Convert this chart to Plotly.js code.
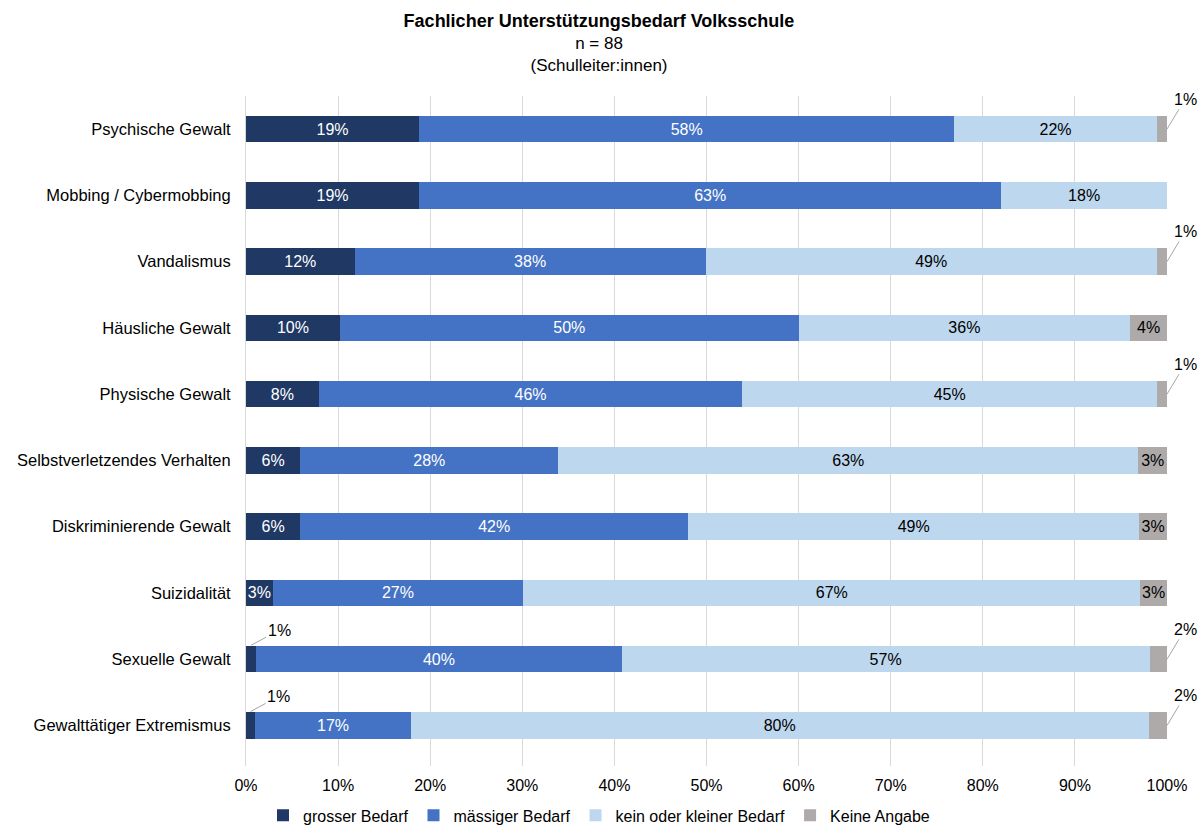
<!DOCTYPE html>
<html>
<head>
<meta charset="utf-8">
<script src="https://cdn.plot.ly/plotly-3.0.1.min.js"></script>
<style>
  html, body { margin: 0; padding: 0; background: #ffffff; }
  #chart { width: 1198px; height: 827px; }
</style>
</head>
<body>
<div id="chart"></div>
<script>
  // Unterstützungsbedarf, Anteile in %
  const categories = [
    'Psychische Gewalt',
    'Mobbing / Cybermobbing',
    'Vandalismus',
    'Häusliche Gewalt',
    'Physische Gewalt',
    'Selbstverletzendes Verhalten',
    'Diskriminierende Gewalt',
    'Suizidalität',
    'Sexuelle Gewalt',
    'Gewalttätiger Extremismus'
  ];
  const grosserBedarf   = [18.8, 18.8, 11.8, 10.2, 7.9, 5.9, 5.9, 2.9, 1.1, 1.0];
  const maessigerBedarf = [58.1, 63.2, 38.1, 49.8, 46.0, 28.0, 42.1, 27.2, 39.7, 16.9];
  const keinBedarf      = [22.0, 18.0, 49.0, 36.0, 45.0, 63.0, 49.0, 67.0, 57.3, 80.1];
  const keineAngabe     = [1.1, 0, 1.1, 4.0, 1.1, 3.1, 3.0, 2.9, 1.9, 2.0];
  const seriesNames = ['grosser Bedarf', 'mässiger Bedarf', 'kein oder kleiner Bedarf', 'Keine Angabe'];
  const xTicks = [0, 10, 20, 30, 40, 50, 60, 70, 80, 90, 100];

  const COLORS = ['#203864', '#4472c4', '#bdd7ee', '#aeaaaa'];
  const LABEL_COLORS = ['#ffffff', '#ffffff', '#000000', '#000000'];
  const FONT = 'Liberation Sans, Arial, sans-serif';
  const MIN_INSIDE = 2.5; // kleinere Werte bekommen eine Beschriftung mit Linie

  const pct = v => Math.round(v) + '%';

  const values = [grosserBedarf, maessigerBedarf, keinBedarf, keineAngabe];
  const traces = values.map((vals, i) => ({
    type: 'bar',
    orientation: 'h',
    name: seriesNames[i],
    y: categories,
    x: vals,
    text: vals.map(v => v >= MIN_INSIDE ? pct(v) : ''),
    textposition: 'inside',
    insidetextanchor: 'middle',
    textangle: 0,
    insidetextfont: { family: FONT, size: 16, color: LABEL_COLORS[i] },
    marker: { color: COLORS[i], line: { width: 0 } },
    hoverinfo: 'skip'
  }));

  // callouts for the tiny segments
  const annotations = [];
  grosserBedarf.forEach((v, i) => {
    if (v > 0 && v < MIN_INSIDE) {
      annotations.push({
        x: v / 2, y: categories[i], xref: 'x', yref: 'y',
        text: pct(v), showarrow: true, arrowhead: 0, arrowwidth: 1, arrowcolor: '#a6a6a6',
        ax: 28, ay: -15, yshift: 14,
        font: { family: FONT, size: 16, color: '#000000' }
      });
    }
  });
  keineAngabe.forEach((v, i) => {
    if (v > 0 && v < MIN_INSIDE) {
      annotations.push({
        x: 100, y: categories[i], xref: 'x', yref: 'y',
        text: pct(v), showarrow: true, arrowhead: 0, arrowwidth: 1, arrowcolor: '#a6a6a6',
        ax: 18, ay: -30,
        font: { family: FONT, size: 16, color: '#000000' }
      });
    }
  });

  const layout = {
    width: 1198,
    height: 827,
    margin: { l: 246, r: 31, t: 96, b: 61 },
    paper_bgcolor: '#ffffff',
    plot_bgcolor: '#ffffff',
    font: { family: FONT, size: 16, color: '#000000' },
    barmode: 'stack',
    bargap: 0.6,
    uniformtext: { mode: 'show', minsize: 16 },
    showlegend: true,
    title: {
      text: '<b><span style="font-size:18px">Fachlicher Unterstützungsbedarf Volksschule</span></b><br>n = 88<br>(Schulleiter:innen)',
      font: { family: FONT, size: 17, color: '#000000' },
      x: 0.5, xref: 'container', xanchor: 'center',
      y: 0.967, yref: 'container', yanchor: 'top'
    },
    xaxis: {
      range: [0, 100],
      tickvals: xTicks,
      ticktext: xTicks.map(t => t + '%'),
      showgrid: true,
      gridcolor: '#d9d9d9',
      gridwidth: 1,
      zeroline: false,
      showline: false,
      ticks: '',
      ticklabelstandoff: 8,
      tickfont: { family: FONT, size: 16, color: '#000000' },
      fixedrange: true
    },
    yaxis: {
      autorange: 'reversed',
      showgrid: false,
      zeroline: false,
      showline: true,
      linecolor: '#d9d9d9',
      linewidth: 1,
      ticks: '',
      ticklabelstandoff: 11,
      tickfont: { family: FONT, size: 16.5, color: '#000000' },
      fixedrange: true
    },
    legend: {
      orientation: 'h',
      x: 0.5, xref: 'container', xanchor: 'center',
      y: 0.014, yref: 'container', yanchor: 'middle',
      font: { family: FONT, size: 16, color: '#000000' },
      traceorder: 'normal',
      itemclick: false,
      itemdoubleclick: false
    },
    annotations: annotations
  };

  Plotly.newPlot('chart', traces, layout, { displayModeBar: false, staticPlot: true });
</script>
</body>
</html>
